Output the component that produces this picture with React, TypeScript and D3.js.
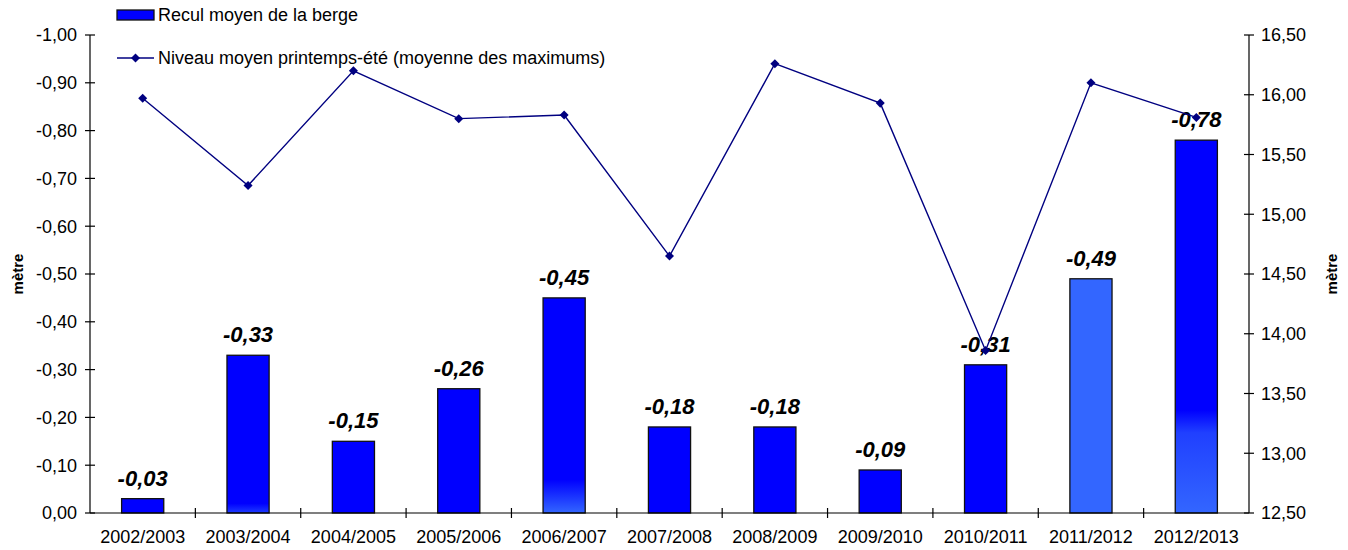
import React from "react";
import * as d3 from "d3";

// Seasons (x categories)
const seasons = [
  "2002/2003", "2003/2004", "2004/2005", "2005/2006", "2006/2007", "2007/2008",
  "2008/2009", "2009/2010", "2010/2011", "2011/2012", "2012/2013",
];

// Mean bank retreat (m), plotted on the left axis
const recul = [-0.03, -0.33, -0.15, -0.26, -0.45, -0.18, -0.18, -0.09, -0.31, -0.49, -0.78];

// Mean spring-summer level (mean of maxima, m), plotted on the right axis
const niveau = [15.97, 15.24, 16.2, 15.8, 15.83, 14.65, 16.26, 15.93, 13.86, 16.1, 15.81];

// Axis ticks
const leftTicks = [0, -0.1, -0.2, -0.3, -0.4, -0.5, -0.6, -0.7, -0.8, -0.9, -1.0];
const rightTicks = [12.5, 13, 13.5, 14, 14.5, 15, 15.5, 16, 16.5];

const W = 1348;
const H = 550;
const M = { left: 90, right: 99, top: 35, bottom: 37 };
const FONT = "Arial, 'Liberation Sans', sans-serif";
const BAR_BLUE = "#0000FF";
const BAR_LIGHT = "#3366FF";
const LINE_COLOR = "#000080";
const TEXT_SIZE = 18;

const fmt = (v: number) => {
  const s = Math.abs(v) < 1e-9 ? "0.00" : v.toFixed(2);
  return s.replace(".", ",");
};

export default function App() {
  const x0 = M.left;
  const x1 = W - M.right;
  const yTop = M.top;
  const yBot = H - M.bottom;

  const x = d3.scaleBand<string>().domain(seasons).range([x0, x1]).paddingInner(0).paddingOuter(0);
  const yL = d3.scaleLinear().domain([0, -1]).range([yBot, yTop]);
  const yR = d3.scaleLinear().domain([12.5, 16.5]).range([yBot, yTop]);

  const bw = x.bandwidth() * 0.4;
  const cx = (s: string) => (x(s) as number) + x.bandwidth() / 2;

  const line = d3
    .line<number>()
    .x((_, i) => cx(seasons[i]))
    .y((d) => yR(d));

  const diamondPath = d3.symbol().type(d3.symbolDiamond2).size(52)() as string;

  // Fill of each bar (shading at the foot of some bars)
  const fillFor = (s: string) => {
    if (s === "2011/2012") return BAR_LIGHT;
    if (s === "2012/2013") return "url(#gradLong)";
    if (s === "2006/2007") return "url(#gradMid)";
    if (s === "2003/2004") return "url(#gradShort)";
    return BAR_BLUE;
  };

  const tick = 5;

  return (
    <svg
      width={W}
      height={H}
      viewBox={`0 0 ${W} ${H}`}
      style={{ position: "absolute", left: 0, top: 0, background: "#fff" }}
      fontFamily={FONT}
    >
      <defs>
        <linearGradient id="gradLong" gradientUnits="userSpaceOnUse" x1={0} x2={0} y1={yL(-0.215)} y2={yL(0)}>
          <stop offset="0" stopColor={BAR_BLUE} />
          <stop offset="0.22" stopColor="#2040FF" />
          <stop offset="1" stopColor={BAR_LIGHT} />
        </linearGradient>
        <linearGradient id="gradMid" gradientUnits="userSpaceOnUse" x1={0} x2={0} y1={yL(-0.07)} y2={yL(0)}>
          <stop offset="0" stopColor={BAR_BLUE} />
          <stop offset="1" stopColor={BAR_LIGHT} />
        </linearGradient>
        <linearGradient id="gradShort" gradientUnits="userSpaceOnUse" x1={0} x2={0} y1={yL(-0.02)} y2={yL(0)}>
          <stop offset="0" stopColor={BAR_BLUE} />
          <stop offset="1" stopColor="#1E3CFF" />
        </linearGradient>
      </defs>

      {/* Bars */}
      {seasons.map((s, i) => {
        const top = yL(recul[i]);
        return (
          <rect
            key={s}
            x={cx(s) - bw / 2}
            y={top}
            width={bw}
            height={yBot - top}
            fill={fillFor(s)}
            stroke="#111"
            strokeWidth={1.3}
          />
        );
      })}

      {/* Bar value labels */}
      {seasons.map((s, i) => (
        <text
          key={"l" + s}
          x={cx(s)}
          y={yL(recul[i]) - 13}
          textAnchor="middle"
          fontSize={22}
          fontWeight="bold"
          fontStyle="italic"
          fill="#000"
        >
          {fmt(recul[i])}
        </text>
      ))}

      {/* Level line */}
      <path d={line(niveau) as string} fill="none" stroke={LINE_COLOR} strokeWidth={1.4} />
      {niveau.map((v, i) => (
        <path key={"m" + i} d={diamondPath} transform={`translate(${cx(seasons[i])},${yR(v)})`} fill={LINE_COLOR} />
      ))}

      {/* Left axis */}
      <line x1={x0} x2={x0} y1={yTop} y2={yBot} stroke="#000" strokeWidth={1.2} />
      {leftTicks.map((t) => (
        <g key={"lt" + t}>
          <line x1={x0 - tick} x2={x0 + tick} y1={yL(t)} y2={yL(t)} stroke="#000" strokeWidth={1.2} />
          <text x={x0 - 13} y={yL(t)} dy="0.35em" textAnchor="end" fontSize={TEXT_SIZE} fill="#000">
            {fmt(t)}
          </text>
        </g>
      ))}

      {/* Right axis */}
      <line x1={x1} x2={x1} y1={yTop} y2={yBot} stroke="#000" strokeWidth={1.2} />
      {rightTicks.map((t) => (
        <g key={"rt" + t}>
          <line x1={x1 - tick} x2={x1 + tick} y1={yR(t)} y2={yR(t)} stroke="#000" strokeWidth={1.2} />
          <text x={x1 + 12} y={yR(t)} dy="0.35em" textAnchor="start" fontSize={TEXT_SIZE} fill="#000">
            {fmt(t)}
          </text>
        </g>
      ))}

      {/* Bottom axis */}
      <line x1={x0} x2={x1} y1={yBot} y2={yBot} stroke="#000" strokeWidth={1.2} />
      {seasons.slice(1).map((s) => (
        <line key={"xt" + s} x1={x(s)} x2={x(s)} y1={yBot - tick} y2={yBot + tick} stroke="#000" strokeWidth={1.2} />
      ))}
      {seasons.map((s) => (
        <text key={"xl" + s} x={cx(s)} y={yBot + 30} textAnchor="middle" fontSize={TEXT_SIZE} fill="#000">
          {s}
        </text>
      ))}

      {/* Axis titles */}
      <text
        transform={`translate(18,${(yTop + yBot) / 2}) rotate(-90)`}
        textAnchor="middle"
        dy="0.35em"
        fontSize={15}
        fontWeight="bold"
        fill="#000"
      >
        mètre
      </text>
      <text
        transform={`translate(1332,${(yTop + yBot) / 2}) rotate(-90)`}
        textAnchor="middle"
        dy="0.35em"
        fontSize={15}
        fontWeight="bold"
        fill="#000"
      >
        mètre
      </text>

      {/* Legend */}
      <rect x={117} y={10} width={37} height={10} fill={BAR_BLUE} stroke="#111" strokeWidth={1.3} />
      <text x={158} y={15} dy="0.35em" fontSize={TEXT_SIZE} fill="#000">
        Recul moyen de la berge
      </text>
      <line x1={117} x2={154} y1={58} y2={58} stroke={LINE_COLOR} strokeWidth={1.4} />
      <path d={diamondPath} transform="translate(135.5,58)" fill={LINE_COLOR} />
      <text x={158} y={58} dy="0.35em" fontSize={TEXT_SIZE} fill="#000">
        Niveau moyen printemps-été (moyenne des maximums)
      </text>
    </svg>
  );
}
